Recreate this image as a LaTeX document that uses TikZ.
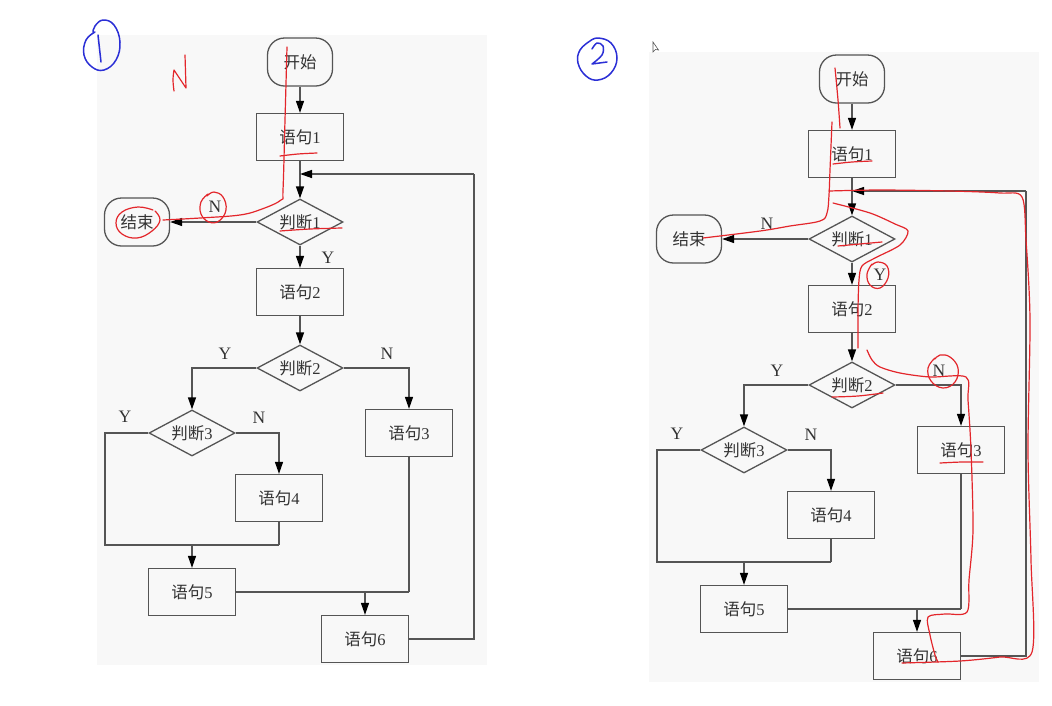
\documentclass[tikz,border=0pt]{standalone}
\usepackage{fontspec}
\setmainfont{Liberation Serif}
\newfontfamily\cjk{Noto Sans CJK SC}
\usetikzlibrary{shapes.geometric,arrows.meta}
\definecolor{lineg}{HTML}{555555}
\definecolor{txtg}{HTML}{333333}
\definecolor{panel}{HTML}{F8F8F8}
\definecolor{pen}{HTML}{E3262B}
\definecolor{bpen}{HTML}{2B2FD6}
\newcommand{\zh}[1]{{\cjk #1}}
\newcommand{\flowchart}{%
  \fill[panel] (97,35) rectangle (487,665);
  \node[term] (s)  at (300,62)  {\zh{开始}};
  \node[box]  (b1) at (300,137) {\zh{语句}1};
  \node[dec]  (d1) at (300,222) {\zh{判断}1};
  \node[term] (e)  at (137,222) {\zh{结束}};
  \node[box]  (b2) at (300,292) {\zh{语句}2};
  \node[dec]  (d2) at (300,368) {\zh{判断}2};
  \node[box]  (b3) at (409,433) {\zh{语句}3};
  \node[dec]  (d3) at (192,433) {\zh{判断}3};
  \node[box]  (b4) at (279,498) {\zh{语句}4};
  \node[box]  (b5) at (192,592) {\zh{语句}5};
  \node[box]  (b6) at (365,639) {\zh{语句}6};
  \coordinate (m1) at (300,174);
  \coordinate (yl) at (105,545);
  \coordinate (m3) at (192,545);
  \coordinate (m4) at (279,545);
  \coordinate (r5) at (409,592);
  \coordinate (m6) at (365,592);
  \coordinate (lb) at (474,639);
  \coordinate (lt) at (474,174);
  \node[lab] (n1) at (215,207) {N};
  \node[lab] (y1) at (328,258) {Y};
  \node[lab] (y2) at (225,354) {Y};
  \node[lab] (n2) at (387,354) {N};
  \node[lab] (y3) at (125,417) {Y};
  \node[lab] (n3) at (259,418) {N};
  \draw[conn,arr] (s) -- (b1);
  \draw[conn,arr] (b1) -- (d1);
  \draw[conn,arr] (d1.west) -- (e.east);
  \draw[conn,arr] (d1.south) -- (b2.north);
  \draw[conn,arr] (b2) -- (d2);
  \draw[conn,arr] (d2.west) -| (d3.north);
  \draw[conn,arr] (d2.east) -| (b3.north);
  \draw[conn,arr] (d3.east) -| (b4.north);
  \draw[conn] (d3.west) -| (yl) -- (m4);
  \draw[conn] (b4.south) -- (m4);
  \draw[conn,arr] (m3) -- (b5.north);
  \draw[conn] (b5.east) -- (r5);
  \draw[conn] (b3.south) -- (r5);
  \draw[conn,arr] (m6) -- (b6.north);
  \draw[conn] (b6.east) -- (lb) -- (lt);
  \draw[conn,arr] (lt) -- (m1);
}
\begin{document}
\begin{tikzpicture}[x=1pt,y=-1pt,
  conn/.style={draw=lineg,line width=1.3pt},
  arr/.style={-{Triangle[length=12pt,width=8pt,fill=black,color=black]}},
  base/.style={draw=lineg,line width=1.3pt,text=txtg,inner sep=0pt,
    font=\fontsize{16.5}{19}\selectfont},
  box/.style={base,rectangle,minimum width=87pt,minimum height=47pt},
  term/.style={base,rectangle,rounded corners=17pt,minimum width=65pt,minimum height=48pt},
  dec/.style={base,diamond,aspect=1.87,minimum width=86pt,minimum height=46pt},
  lab/.style={text=txtg,inner sep=0pt,font=\fontsize{17.5}{20}\selectfont},
  rp/.style={draw=pen,line width=1.2pt,line cap=round,line join=round},
  bp/.style={draw=bpen,line width=1.5pt,line cap=round,line join=round}]
\useasboundingbox (0,0) rectangle (1052,705);
\fill[white] (0,0) rectangle (1052,705);
\begin{scope}[name prefix=L-]
  \flowchart
\end{scope}
\begin{scope}[shift={(552,17)},name prefix=R-]
  \flowchart
\end{scope}
% blue circled numbers
\draw[bp] plot[smooth,tension=0.7] coordinates {(95,32) (86,40) (84,55) (92,67) (104,70) (116,60) (120,42) (114,25) (103,20) (95,26) (93,32)};
\draw[bp] (98,35) -- (101,62);
\draw[bp] plot[smooth,tension=0.7] coordinates {(590,41) (580,50) (578,63) (586,76) (598,80) (611,73) (617,58) (611,43) (598,38) (590,41)};
\draw[bp] plot[smooth,tension=0.6] coordinates {(592,49) (597,43) (603,46) (602,55) (592,64)} -- (607,62);
% cursor
\draw[lineg,line width=0.6pt,fill=white] (653,42) -- (653,52) -- (655.5,49.5) -- (658.5,50) -- cycle;
% red marks, left chart
\draw[rp] plot[smooth,tension=0.7] coordinates {(174,91) (173,80) (174,70)} -- (186,88) -- (185,55);
\draw[rp] plot[smooth,tension=0.6] coordinates {(287,47) (285,120) (283,190) (281,200) (262,209) (240,215) (200,218) (163,220)};
\draw[rp] plot[smooth,tension=0.7] coordinates {(208,194) (201,202) (201,214) (209,222) (219,221) (226,210) (223,197) (214,192) (207,196)};
\draw[rp] plot[smooth,tension=0.7] coordinates {(153,210) (138,207) (122,212) (116,223) (122,234) (137,238) (152,231) (160,220) (155,211)};
\draw[rp] plot[smooth,tension=0.6] coordinates {(280,156) (298,154) (317,153)};
\draw[rp] plot[smooth,tension=0.6] coordinates {(280,231) (310,229) (342,228)};
% red marks, right chart
\draw[rp] plot[smooth,tension=0.6] coordinates {(835,68) (838,100) (840,128)};
\draw[rp] plot[smooth,tension=0.6] coordinates {(832,122) (830,170) (829,195) (827,213) (820,221) (790,226) (760,231) (703,238)};
\draw[rp] plot[smooth,tension=0.5] coordinates {(829,191) (880,190) (950,191) (1000,193) (1022,197) (1026,240) (1030,320) (1028,450) (1031,560) (1032,652) (1000,657) (960,661) (902,663)};
\draw[rp] plot[smooth,tension=0.5] coordinates {(833,203) (870,213) (895,224) (908,231) (900,245) (875,258) (862,266) (859,280) (858,310) (858,348)};
\draw[rp] plot[smooth,tension=0.5] coordinates {(867,350) (872,360) (880,367) (900,373) (930,377) (966,377) (968,400) (971,450) (973,530) (969,580) (967,612) (945,614) (928,617) (930,635) (935,655) (938,662)};
\draw[rp] plot[smooth,tension=0.7] coordinates {(872,264) (867,274) (870,285) (880,288) (888,278) (887,266) (878,262) (872,265)};
\draw[rp] plot[smooth,tension=0.7] coordinates {(935,358) (928,368) (931,381) (943,388) (955,382) (958,368) (950,357) (940,355) (935,359)};
\draw[rp] plot[smooth,tension=0.6] coordinates {(833,164) (852,162) (872,161)};
\draw[rp] plot[smooth,tension=0.6] coordinates {(838,246) (860,244) (882,242)};
\draw[rp] plot[smooth,tension=0.6] coordinates {(832,397) (858,396) (883,393)};
\draw[rp] plot[smooth,tension=0.6] coordinates {(940,463) (962,462) (983,462)};
\end{tikzpicture}
\end{document}
